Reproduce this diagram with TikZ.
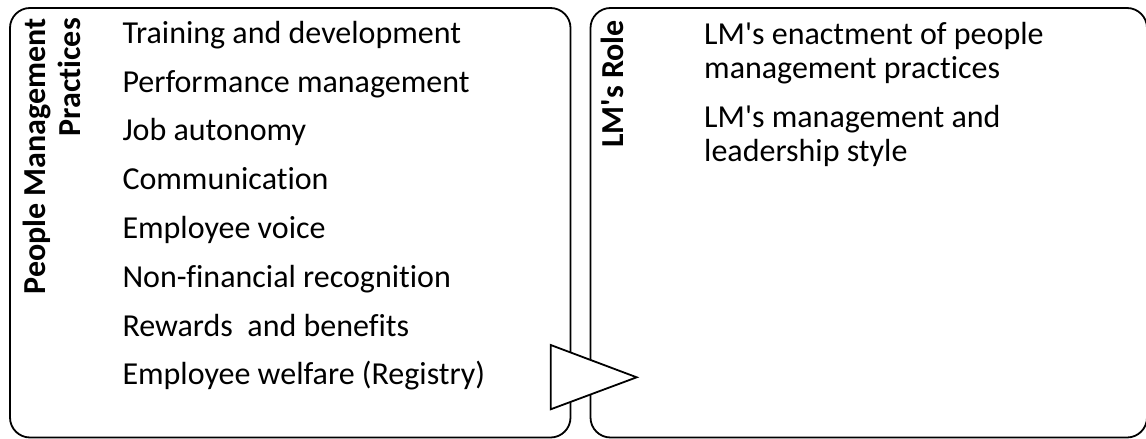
\documentclass[tikz,border=0pt]{standalone}
\usepackage{fontspec}
\setmainfont{Carlito}[Ligatures={NoCommon}]
\begin{document}
\begin{tikzpicture}[x=1pt,y=-1pt,
  box/.style={draw, line width=1.8pt, rounded corners=20pt, fill=white, inner sep=0pt},
  item/.style={anchor=base west, inner sep=0pt, font=\fontsize{32}{34.5}\selectfont},
  lbl/.style={rotate=90, anchor=base east, inner sep=0pt, align=right, font=\bfseries\fontsize{32}{35}\selectfont},
  arrowtri/.style={draw, line width=1.8pt, fill=white, line join=miter}]
\useasboundingbox (0,0) rectangle (1146,439);
% boxes
\node[box, minimum width=560.5pt, minimum height=429.5pt] (left) at (290.25,222.75) {};
\node[box, minimum width=556.5pt, minimum height=429.5pt] (right) at (868.75,222.75) {};
% vertical labels (anchor = baseline of the last line)
\node[lbl] (pmp) at (80,18) {People Management\\Practices};
\node[lbl] (lmr) at (623,20) {LM\textquotesingle s Role};
% list of practices
\foreach \t [count=\i] in {Training and development, Performance management, Job autonomy, Communication, Employee voice, Non-financial recognition, Rewards~ and benefits, Employee welfare (Registry)}
  \node[item] (pm\i) at (122.3,{43.3+48.8*(\i-1)}) {\t};
% LM role (anchor = baseline of the last line)
\node[item, align=left] (lm1) at (704,78.8) {LM\textquotesingle s enactment of people\\management practices};
\node[item, align=left] (lm2) at (704,161.7) {LM\textquotesingle s management and\\leadership style};
% arrow
\coordinate (ta) at (550.7,345);
\coordinate (tb) at (550.7,409.3);
\coordinate (tc) at (636.7,377.3);
\draw[arrowtri] (ta) -- (tc) -- (tb) -- cycle;
\end{tikzpicture}
\end{document}
